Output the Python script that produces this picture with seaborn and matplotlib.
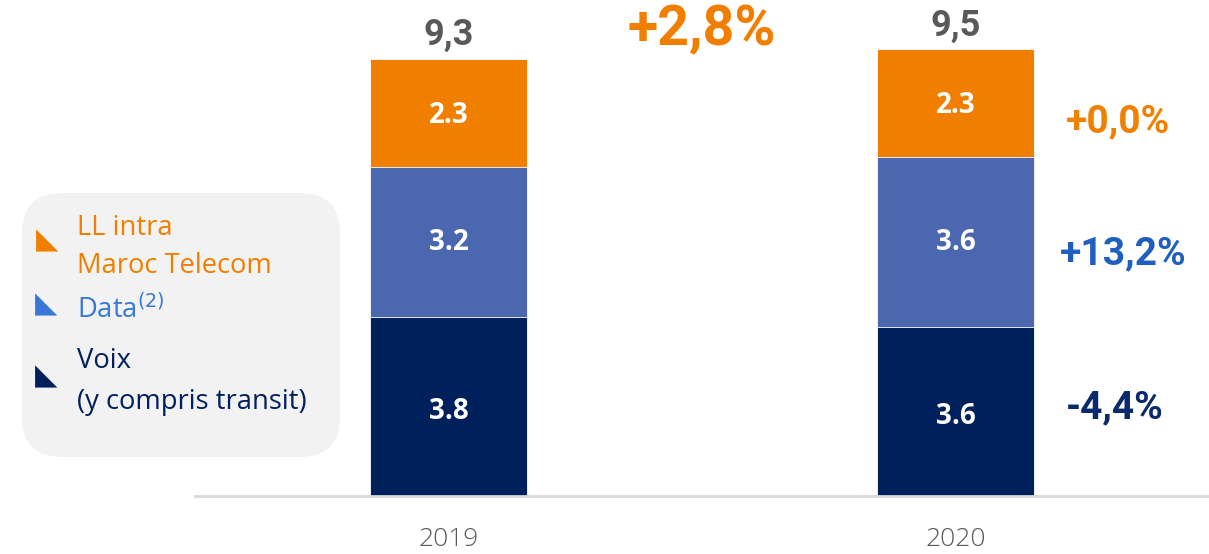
import pandas as pd
import matplotlib.pyplot as plt
import seaborn as sns
from matplotlib.patches import FancyBboxPatch

# ── Data ─────────────────────────────────────────────
years = ['2019', '2020']
voix = [3.8, 3.6]
data_vals = [3.2, 3.6]
ll_intra = [2.3, 2.3]
totals = ['9,3', '9,5']
growth_total = '+2,8%'
growth_series = ['+0,0%', '+13,2%', '-4,4%']  # LL, Data, Voix

# colours
c_ll = '#F07F00'
c_data = '#4A67AF'
c_voix = '#00205C'

sns.set_theme(style='white')
plt.rcParams['font.family'] = ['Open Sans', 'DejaVu Sans']

W, H = 1209, 554
fig = plt.figure(figsize=(W / 100, H / 100), dpi=100)

# legend axes in pixel coordinates (drawn underneath)
lax = fig.add_axes([0, 0, 1, 1])
lax.set_xlim(0, W)
lax.set_ylim(H, 0)
lax.axis('off')

# main axes: from x=195px to the right edge, baseline at y=496px
ax = fig.add_axes([195 / W, (H - 496) / H, 1 - 195 / W, 496 / H])
ax.patch.set_visible(False)

df = pd.DataFrame({'year': years, 'voix': voix, 'data': data_vals, 'll': ll_intra})
df['cum_data'] = df['voix'] + df['data']
df['cum_ll'] = df['cum_data'] + df['ll']

# stacked bars drawn as overlapping cumulative bars
for col, color in [('cum_ll', c_ll), ('cum_data', c_data), ('voix', c_voix)]:
    sns.barplot(data=df, x='year', y=col, color=color, width=0.31,
                edgecolor='white', linewidth=0.6, ax=ax, saturation=1)

ax.set_xlim(-0.5, 1.5)
ax.set_ylim(0, 10.55)
ax.set_xlabel('')
ax.set_ylabel('')
ax.set_yticks([])
sns.despine(ax=ax, left=True)
ax.spines['bottom'].set_color('#D9D9D9')
ax.spines['bottom'].set_linewidth(2)
ax.tick_params(axis='x', length=0, pad=22)
for lab in ax.get_xticklabels():
    lab.set_fontsize(19)
    lab.set_color('#595959')
    lab.set_fontweight('light')

# segment labels
for i in range(len(years)):
    ax.text(i, df['voix'][i] / 2 - 0.1, f'{voix[i]:.1f}', ha='center', va='center',
            color='white', fontsize=20, fontweight='bold')
    ax.text(i, df['voix'][i] + data_vals[i] / 2, f'{data_vals[i]:.1f}', ha='center',
            va='center', color='white', fontsize=20, fontweight='bold')
    ax.text(i, df['cum_data'][i] + ll_intra[i] / 2 - 0.05, f'{ll_intra[i]:.1f}', ha='center',
            va='center', color='white', fontsize=20, fontweight='bold')
    ax.text(i, df['cum_ll'][i] + 0.12, totals[i], ha='center', va='bottom',
            color='#595959', fontsize=26, fontweight='bold', family='Roboto')

# growth labels
ax.text(0.5, 10.45, growth_total, ha='center', va='top', color='#F07F00',
        fontsize=40, fontweight='bold', family='Roboto')
gx = 1.33
ax.text(gx - 0.01, df['cum_data'][1] + ll_intra[1] * 0.33, growth_series[0], ha='center',
        va='center', color='#F08000', fontsize=28, fontweight='bold', family='Roboto')
ax.text(gx, df['voix'][1] + data_vals[1] * 0.43, growth_series[1], ha='center',
        va='center', color='#1F5FC0', fontsize=28, fontweight='bold', family='Roboto')
ax.text(gx - 0.015, voix[1] * 0.52, growth_series[2], ha='center',
        va='center', color='#0B2A6B', fontsize=28, fontweight='bold', family='Roboto')

# ── Legend box ───────────────────────────────────────
lax.add_patch(FancyBboxPatch((22, 193), 318, 264, boxstyle='round,pad=0,rounding_size=40',
                             facecolor='#F2F2F2', edgecolor='none'))

lax.text(47, 240, '◣', ha='center', va='center', color=c_ll, fontsize=21, family='DejaVu Sans')
lax.text(46, 304, '◣', ha='center', va='center', color='#3A78D8', fontsize=21, family='DejaVu Sans')
lax.text(46, 376, '◣', ha='center', va='center', color=c_voix, fontsize=21, family='DejaVu Sans')

lax.text(77, 228, 'LL intra', ha='left', va='center', color='#F07F00', fontsize=19.7)
lax.text(77, 266, 'Maroc Telecom', ha='left', va='center', color='#F07F00', fontsize=19.7)
lax.text(77, 310, r'Data$^{(2)}$', ha='left', va='center', color='#3A78D8', fontsize=19.7)
lax.text(77, 361, 'Voix', ha='left', va='center', color=c_voix, fontsize=19.7)
lax.text(77, 402, '(y compris transit)', ha='left', va='center', color=c_voix, fontsize=19.7)

fig.savefig('out.png', dpi=100)
